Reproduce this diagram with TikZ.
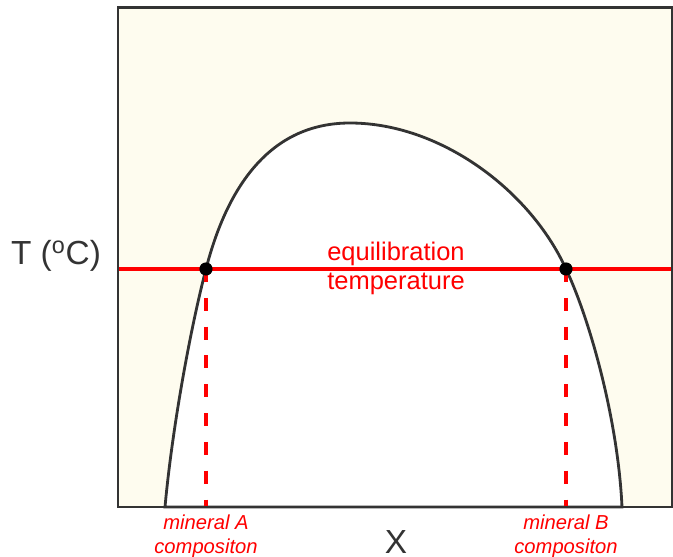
\documentclass[tikz,border=0pt]{standalone}
\usepackage{fontspec}
\setmainfont{Liberation Sans}
\usepackage{tikz}
\usetikzlibrary{positioning, calc}
\definecolor{panelcream}{RGB}{254,252,239}
\definecolor{curvegray}{RGB}{51,51,51}
\tikzset{
  frame/.style={draw=curvegray, line width=1.7pt},
  solvus/.style={draw=curvegray, line width=1.6pt, fill=white},
  eqline/.style={red, line width=1.9pt},
  dropline/.style={red, line width=1.9pt, dash pattern=on 7.4pt off 9pt},
  eqdot/.style={circle, fill=black, inner sep=0pt, minimum size=7.5pt},
  axislabel/.style={font=\fontsize{19}{23}\selectfont, text=curvegray, inner sep=0pt},
  eqlabel/.style={align=center, text=red, font=\fontsize{14.5}{16.5}\selectfont},
  complabel/.style={align=center, text=red, font=\fontsize{11.5}{13.6}\selectfont\itshape},
}

\begin{document}
\begin{tikzpicture}[x=0.02cm, y=-0.02cm]
  \useasboundingbox (0,0) rectangle (673,557);

  % --- Campo de fondo ---
  \fill[panelcream] (118,7.5) rectangle (672,507);

  % --- Curva del solvus ---
  \filldraw[solvus] (165,507) .. controls (172,430) and (190,330) .. (206,269)
        .. controls (225,195) and (265,123) .. (350,123)
        .. controls (440,123) and (530,190) .. (566,269)
        .. controls (590,320) and (618,420) .. (622,507) -- cycle;

  % --- Temperatura de equilibrio ---
  \coordinate (eqL) at (118,269);
  \coordinate (eqR) at (672,269);
  \coordinate (ptA) at (206,269);
  \coordinate (ptB) at (566,269);
  \coordinate (baseA) at (206,507);
  \coordinate (baseB) at (566,507);
  \draw[eqline] (eqL) -- (eqR);
  \draw[dropline] (ptA) -- (baseA);
  \draw[dropline] (ptB) -- (baseB);
  \node (dotA) [eqdot] at (ptA) {};
  \node (dotB) [eqdot] at (ptB) {};

  % --- Marco ---
  \draw[frame] (118,7.5) rectangle (672,507);

  % --- Textos ---
  \node (tlabel) [axislabel] at (56,256) {T (\textsuperscript{o}C)};
  \node (xlabel) [axislabel] at (396,542) {X};
  \node (eqtext) [eqlabel] at (396,268) {equilibration\\temperature};
  \node (compA) [complabel, below=1pt of baseA] {mineral A\\compositon};
  \node (compB) [complabel, below=1pt of baseB] {mineral B\\compositon};

\end{tikzpicture}
\end{document}
